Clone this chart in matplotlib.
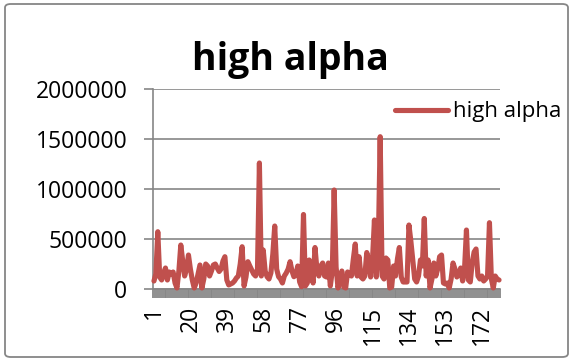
import matplotlib
matplotlib.use("Agg")
import matplotlib.pyplot as plt
from matplotlib.patches import FancyBboxPatch
from matplotlib.ticker import FixedLocator, FuncFormatter

plt.rcParams['font.family'] = ['Open Sans', 'DejaVu Sans']

title = "high alpha"
series_name = "high alpha"
values = [
    80000, 150000, 573000, 120000, 90000, 160000, 210000, 90000, 170000, 150000,
    170000, 60000, 10000, 180000, 440000, 280000, 130000, 200000, 340000, 200000,
    90000, 10000, 60000, 150000, 240000, 10000, 100000, 250000, 230000, 130000,
    180000, 240000, 250000, 210000, 175000, 200000, 280000, 323000, 90000, 40000,
    50000, 60000, 80000, 110000, 130000, 250000, 423000, 30000, 120000, 273000,
    230000, 190000, 150000, 130000, 200000, 1260000, 130000, 390000, 180000, 123000,
    100000, 160000, 350000, 630000, 200000, 123000, 100000, 60000, 130000, 160000,
    200000, 273000, 180000, 123000, 140000, 230000, 70000, 23000, 745000, 30000,
    60000, 290000, 200000, 60000, 415000, 200000, 130000, 230000, 260000, 130000,
    120000, 260000, 30000, 180000, 990000, 220000, 10000, 100000, 180000, 20000,
    10000, 170000, 140000, 130000, 300000, 450000, 130000, 323000, 120000, 100000,
    130000, 365000, 290000, 120000, 300000, 690000, 120000, 400000, 1523000, 130000,
    100000, 310000, 290000, 10000, 20000, 230000, 130000, 300000, 415000, 120000,
    70000, 70000, 70000, 640000, 480000, 290000, 100000, 70000, 130000, 290000,
    230000, 705000, 130000, 290000, 10000, 100000, 260000, 130000, 200000, 323000,
    340000, 60000, 50000, 60000, 10000, 100000, 260000, 200000, 120000, 150000,
    210000, 80000, 200000, 590000, 90000, 70000, 260000, 370000, 400000, 130000,
    100000, 130000, 80000, 100000, 130000, 663000, 100000, 10000, 130000, 100000,
    90000,
]
categories = list(range(1, len(values) + 1))
label_step = 19
y_ticks = [0, 500000, 1000000, 1500000, 2000000]

W, H = 573, 361
fig = plt.figure(figsize=(W / 100, H / 100), dpi=100)

# chart border
border = FancyBboxPatch((5 / W, 4 / H), 563 / W, 353 / H,
                        boxstyle="round,pad=0,rounding_size=0.01",
                        transform=fig.transFigure, facecolor='none',
                        edgecolor='#868686', linewidth=1.3, zorder=-1)
fig.patches.append(border)

ax = fig.add_axes([153 / W, (H - 289) / H, 347 / W, 200 / H])
ax.set_facecolor('none')

line_color = '#C0504D'
grid_color = '#868686'

ax.plot(categories, values, color=line_color, linewidth=3.7,
        solid_joinstyle='round', solid_capstyle='round', label=series_name,
        zorder=3, clip_on=False)

ax.set_xlim(0.5, len(values) + 0.5)
ax.set_ylim(0, 2000000)

for s in ['top', 'right']:
    ax.spines[s].set_visible(False)
ax.spines['left'].set_color(grid_color)
ax.spines['bottom'].set_color(grid_color)
ax.spines['left'].set_linewidth(1.2)
ax.spines['bottom'].set_linewidth(1.2)

# y axis
ax.yaxis.set_major_locator(FixedLocator(y_ticks))
ax.yaxis.set_major_formatter(FuncFormatter(lambda v, p: f"{int(v)}"))
ax.tick_params(axis='y', direction='out', length=6.5, width=1.2, color=grid_color,
               labelsize=16.5, pad=12, labelcolor='black')
ax.grid(axis='y', color=grid_color, linewidth=1.2, zorder=1)

# x axis: a tick mark at every category boundary, labels every 19th
label_pos = categories[::label_step]
ax.xaxis.set_major_locator(FixedLocator(label_pos))
ax.set_xticklabels([str(c) for c in label_pos], rotation=90)
ax.xaxis.set_minor_locator(FixedLocator([c + 0.5 for c in [0] + categories]))
ax.tick_params(axis='x', which='major', length=0, labelsize=16.5, pad=12,
               labelcolor='black')
ax.tick_params(axis='x', which='minor', direction='out', length=6.5, width=1.3,
               color=grid_color)

fig.text(290 / W, 1 - 70 / H, title, ha='center', va='baseline',
         fontsize=27, fontweight='bold')

ax.legend(loc='center left', bbox_to_anchor=(395 / W, 1 - 112 / H),
          bbox_transform=fig.transFigure, frameon=False, fontsize=16,
          handlelength=2.4, handletextpad=0.2, borderpad=0, borderaxespad=0)

fig.savefig("out.png", dpi=100)
